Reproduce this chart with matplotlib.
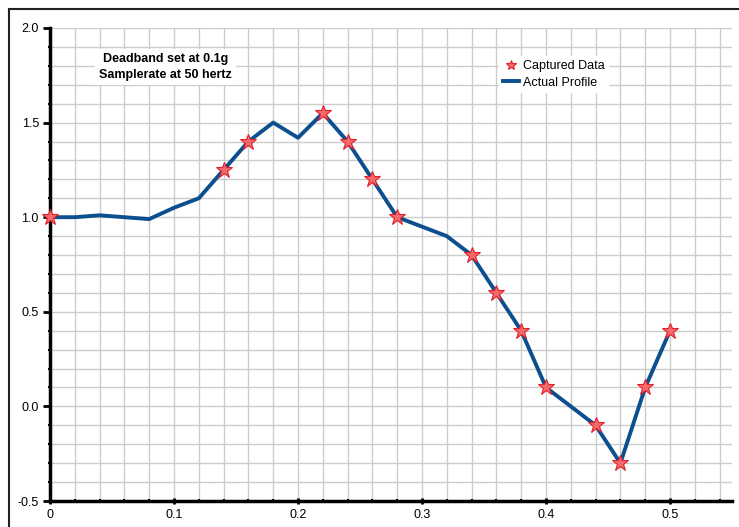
import matplotlib
matplotlib.use("Agg")
import matplotlib.pyplot as plt
from matplotlib.lines import Line2D
from matplotlib.ticker import MultipleLocator

profile_x = [0.0, 0.02, 0.04, 0.08, 0.10, 0.12, 0.14, 0.16, 0.18, 0.20, 0.22, 0.24,
             0.26, 0.28, 0.32, 0.34, 0.36, 0.38, 0.40, 0.44, 0.46, 0.48, 0.50]
profile_y = [1.0, 1.0, 1.01, 0.99, 1.05, 1.10, 1.25, 1.40, 1.50, 1.42, 1.55, 1.40,
             1.20, 1.00, 0.90, 0.80, 0.60, 0.40, 0.10, -0.10, -0.30, 0.10, 0.40]
captured_x = [0.0, 0.14, 0.16, 0.22, 0.24, 0.26, 0.28, 0.34, 0.36, 0.38, 0.40,
              0.44, 0.46, 0.48, 0.50]
captured_y = [1.0, 1.25, 1.40, 1.55, 1.40, 1.20, 1.00, 0.80, 0.60, 0.40, 0.10,
              -0.10, -0.30, 0.10, 0.40]
x_ticks = [0, 0.1, 0.2, 0.3, 0.4, 0.5]
x_ticklabels = ["0", "0.1", "0.2", "0.3", "0.4", "0.5"]
y_ticks = [-0.5, 0.0, 0.5, 1.0, 1.5, 2.0]
y_ticklabels = ["-0.5", "0.0", "0.5", "1.0", "1.5", "2.0"]

plt.rcParams['font.family'] = ['Liberation Sans', 'DejaVu Sans']

W, H = 739, 527
fig = plt.figure(figsize=(W / 100, H / 100), dpi=100)
L, R, T, B = 50, 732, 28, 501
ax = fig.add_axes([L / W, 1 - B / H, (R - L) / W, (B - T) / H])

ax.set_xlim(0, 0.55)
ax.set_ylim(-0.5, 2.0)
ax.xaxis.set_minor_locator(MultipleLocator(0.02))
ax.yaxis.set_minor_locator(MultipleLocator(0.1))
ax.set_xticks(x_ticks)
ax.set_xticklabels(x_ticklabels)
ax.set_yticks(y_ticks)
ax.set_yticklabels(y_ticklabels)
ax.grid(which='both', color='#cccccc', linewidth=1.0)
ax.set_axisbelow(True)

for s in ['top', 'right']:
    ax.spines[s].set_visible(False)
for s in ['left', 'bottom']:
    ax.spines[s].set_linewidth(2.5)
    ax.spines[s].set_color('black')

ax.tick_params(which='major', length=5, width=2, labelsize=9, color='black', pad=3)
ax.tick_params(which='minor', length=3, width=1.5, color='black')
ax.tick_params(axis='x', which='both', direction='inout')
ax.tick_params(axis='y', which='minor', direction='inout')

ax.plot(profile_x, profile_y, color='#0c4f8e', linewidth=2.8, label='Actual Profile',
        zorder=3, clip_on=False)
ax.plot(captured_x, captured_y, linestyle='none', marker='*', markersize=12,
        markerfacecolor='#f46a6a', markeredgecolor='#e0202a', markeredgewidth=0.8,
        label='Captured Data', zorder=4, clip_on=False)

handles, labels = ax.get_legend_handles_labels()
leg = ax.legend([handles[1], handles[0]], [labels[1], labels[0]],
                loc='upper left', bbox_to_anchor=(0.649, 0.953), frameon=True,
                fontsize=9, handlelength=1.3, handletextpad=0.3, borderpad=0.3,
                labelspacing=0.35, markerscale=0.6, fancybox=False)
leg.get_frame().set_edgecolor('white')
leg.get_frame().set_facecolor('white')
leg.get_frame().set_alpha(1.0)

ax.text(0.093, 1.795, "Deadband set at 0.1g\nSamplerate at 50 hertz", ha='center',
        va='center', fontsize=9, fontweight='bold', linespacing=1.4,
        bbox=dict(facecolor='white', edgecolor='none', pad=3), zorder=5)

# outer frame lines (left and top)
fig.add_artist(Line2D([8.5 / W, 8.5 / W], [0, 1 - 9 / H], transform=fig.transFigure,
                      color='#222222', linewidth=1.5))
fig.add_artist(Line2D([8.5 / W, 1], [1 - 9 / H, 1 - 9 / H], transform=fig.transFigure,
                      color='#222222', linewidth=1.5))

fig.savefig('out.png', dpi=100)
